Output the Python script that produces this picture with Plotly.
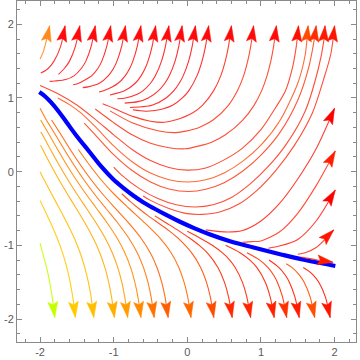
import math
import plotly.graph_objects as go

# ---- streamlines (x, y), tail -> arrow tip ----
top_01 = [(-2.00, 1.53), (-1.96, 1.615), (-1.935, 1.70), (-1.90, 1.84), (-1.87, 1.98)]
top_02 = [(-1.99, 1.34), (-1.93, 1.37), (-1.89, 1.40), (-1.81, 1.50), (-1.72, 1.70), (-1.66, 1.98)]
top_03 = [(-1.75, 1.32), (-1.67, 1.40), (-1.60, 1.50), (-1.52, 1.70), (-1.46, 1.98)]
top_04 = [(-1.87, 1.225), (-1.80, 1.23), (-1.65, 1.25), (-1.54, 1.30), (-1.44, 1.40), (-1.378, 1.50), (-1.306, 1.70), (-1.25, 1.98)]
top_05 = [(-1.55, 1.18), (-1.475, 1.20), (-1.39, 1.245), (-1.30, 1.30), (-1.215, 1.40), (-1.161, 1.50), (-1.094, 1.70), (-1.04, 1.98)]
top_06 = [(-1.42, 1.14), (-1.35, 1.15), (-1.196, 1.20), (-1.074, 1.30), (-1.003, 1.40), (-0.955, 1.50), (-0.892, 1.70), (-0.84, 1.98)]
top_07 = [(-1.20, 1.08), (-1.13, 1.10), (-0.94, 1.20), (-0.844, 1.30), (-0.783, 1.40), (-0.739, 1.50), (-0.68, 1.70), (-0.63, 1.98)]
top_08 = [(-1.05, 1.04), (-0.847, 1.10), (-0.708, 1.20), (-0.628, 1.30), (-0.574, 1.40), (-0.534, 1.50), (-0.478, 1.70), (-0.43, 1.98)]
top_09 = [(-0.95, 0.99), (-0.84, 1.00), (-0.68, 1.05), (-0.60, 1.10), (-0.50, 1.20), (-0.434, 1.30), (-0.35, 1.50), (-0.297, 1.70), (-0.25, 1.98)]
top_10 = [(-0.85, 0.93), (-0.67, 0.95), (-0.53, 1.00), (-0.39, 1.10), (-0.305, 1.20), (-0.245, 1.30), (-0.166, 1.50), (-0.116, 1.70), (-0.07, 1.98)]
top_11 = [(-0.78, 0.87), (-0.62, 0.88), (-0.48, 0.90), (-0.288, 1.00), (-0.182, 1.10), (-0.11, 1.20), (-0.056, 1.30), (0.018, 1.50), (0.066, 1.70), (0.11, 1.98)]
top_12 = [(-0.74, 0.84), (-0.57, 0.82), (-0.44, 0.83), (-0.336, 0.85), (-0.20, 0.90), (-0.067, 1.00), (0.021, 1.10), (0.131, 1.30), (0.20, 1.50), (0.247, 1.70), (0.29, 1.98)]
top_13 = [(-1.15, 0.92), (-1.00, 0.86), (-0.74, 0.75), (-0.50, 0.685), (-0.31, 0.67), (-0.165, 0.70), (0.075, 0.80), (0.205, 0.90), (0.359, 1.10), (0.454, 1.30), (0.516, 1.50), (0.559, 1.70), (0.60, 1.98)]
top_14 = [(-1.05, 0.825), (-0.74, 0.66), (-0.40, 0.555), (-0.15, 0.53), (-0.02, 0.55), (0.16, 0.60), (0.35, 0.70), (0.558, 0.90), (0.682, 1.10), (0.764, 1.30), (0.82, 1.50), (0.861, 1.70), (0.90, 1.98)]
top_15 = [(-1.25, 0.85), (-1.00, 0.665), (-0.75, 0.50), (-0.50, 0.385), (-0.25, 0.325), (-0.03, 0.31), (0.163, 0.35), (0.33, 0.40), (0.518, 0.50), (0.753, 0.70), (0.906, 0.90), (1.01, 1.10), (1.082, 1.30), (1.134, 1.50), (1.172, 1.70), (1.21, 1.98)]
top_16 = [(-2.00, 1.17), (-1.75, 1.055), (-1.50, 0.905), (-1.25, 0.71), (-1.00, 0.50), (-0.75, 0.30), (-0.50, 0.15), (-0.25, 0.055), (0.00, 0.02), (0.25, 0.05), (0.50, 0.16), (0.75, 0.32), (1.00, 0.57), (1.20, 0.87), (1.33, 1.09), (1.43, 1.42), (1.48, 1.70), (1.51, 1.98)]
top_17 = [(-1.76, 1.00), (-1.60, 0.91), (-1.45, 0.80), (-1.25, 0.61), (-1.00, 0.35), (-0.75, 0.135), (-0.50, -0.02), (-0.25, -0.11), (0.00, -0.14), (0.25, -0.11), (0.50, -0.017), (0.75, 0.14), (1.00, 0.36), (1.25, 0.68), (1.50, 1.20), (1.60, 1.58), (1.64, 1.98)]
top_18 = [(-1.40, 0.66), (-1.25, 0.50), (-1.00, 0.23), (-0.75, 0.015), (-0.50, -0.14), (-0.25, -0.235), (0.02, -0.27), (0.25, -0.24), (0.50, -0.15), (0.75, 0.005), (1.00, 0.225), (1.25, 0.52), (1.50, 0.97), (1.65, 1.42), (1.72, 1.77), (1.75, 1.98)]
top_19 = [(-1.00, 0.06), (-0.90, -0.04), (-0.65, -0.23), (-0.40, -0.365), (-0.15, -0.45), (0.11, -0.48), (0.35, -0.45), (0.60, -0.35), (0.85, -0.17), (1.10, 0.07), (1.35, 0.38), (1.60, 0.82), (1.78, 1.40), (1.85, 1.75), (1.87, 1.98)]
top_20 = [(-0.60, -0.33), (-0.50, -0.39), (-0.25, -0.50), (0.00, -0.57), (0.20, -0.58), (0.45, -0.545), (0.70, -0.44), (0.95, -0.25), (1.20, 0.015), (1.45, 0.35), (1.70, 0.80), (1.85, 1.25), (1.95, 1.60), (2.00, 1.98)]

right_a = [(0.25, -0.79), (0.55, -0.82), (0.75, -0.80), (1.00, -0.67), (1.25, -0.435), (1.50, -0.10), (1.75, 0.31), (2.00, 0.86)]
right_b = [(0.75, -0.96), (0.87, -0.95), (1.00, -0.94), (1.25, -0.82), (1.50, -0.565), (1.75, -0.19), (2.01, 0.28)]
right_c = [(1.10, -1.04), (1.25, -1.01), (1.50, -0.92), (1.75, -0.67), (2.01, -0.25)]
right_d = [(1.50, -1.12), (1.60, -1.10), (1.75, -1.03), (1.99, -0.79)]
right_e = [(1.55, -1.16), (1.75, -1.195), (1.98, -1.23)]

bot_01 = [(-2.00, -0.97), (-1.966, -1.10), (-1.912, -1.30), (-1.869, -1.50), (-1.835, -1.70), (-1.80, -1.98)]
bot_02 = [(-2.00, -0.39), (-1.948, -0.50), (-1.854, -0.70), (-1.768, -0.90), (-1.695, -1.10), (-1.637, -1.30), (-1.591, -1.50), (-1.556, -1.70), (-1.52, -1.98)]
bot_03 = [(-2.00, 0.00), (-1.95, -0.10), (-1.845, -0.30), (-1.737, -0.50), (-1.632, -0.70), (-1.536, -0.90), (-1.456, -1.10), (-1.393, -1.30), (-1.344, -1.50), (-1.307, -1.70), (-1.27, -1.98)]
bot_04 = [(-1.994, 0.36), (-1.964, 0.30), (-1.859, 0.10), (-1.749, -0.10), (-1.631, -0.30), (-1.508, -0.50), (-1.388, -0.70), (-1.279, -0.90), (-1.189, -1.10), (-1.12, -1.30), (-1.068, -1.50), (-1.029, -1.70), (-0.99, -1.98)]
bot_05 = [(-1.99, 0.54), (-1.966, 0.50), (-1.858, 0.30), (-1.747, 0.10), (-1.629, -0.10), (-1.502, -0.30), (-1.368, -0.50), (-1.236, -0.70), (-1.116, -0.90), (-1.019, -1.10), (-0.945, -1.30), (-0.89, -1.50), (-0.85, -1.70), (-0.81, -1.98)]
bot_06 = [(-1.992, 0.70), (-1.875, 0.50), (-1.761, 0.30), (-1.643, 0.10), (-1.516, -0.10), (-1.379, -0.30), (-1.232, -0.50), (-1.086, -0.70), (-0.954, -0.90), (-0.849, -1.10), (-0.77, -1.30), (-0.713, -1.50), (-0.671, -1.70), (-0.63, -1.98)]
bot_07 = [(-2.00, 0.86), (-1.914, 0.70), (-1.791, 0.50), (-1.671, 0.30), (-1.546, 0.10), (-1.412, -0.10), (-1.265, -0.30), (-1.105, -0.50), (-0.942, -0.70), (-0.796, -0.90), (-0.68, -1.10), (-0.596, -1.30), (-0.535, -1.50), (-0.492, -1.70), (-0.45, -1.98)]
bot_08 = [(-1.843, 0.70), (-1.715, 0.50), (-1.59, 0.30), (-1.458, 0.10), (-1.314, -0.10), (-1.154, -0.30), (-0.977, -0.50), (-0.795, -0.70), (-0.631, -0.90), (-0.503, -1.10), (-0.412, -1.30), (-0.348, -1.50), (-0.303, -1.70), (-0.26, -1.98)]
bot_09 = [(-1.48, 0.30), (-1.336, 0.10), (-1.18, -0.10), (-1.00, -0.30), (-0.79, -0.50), (-0.574, -0.70), (-0.374, -0.90), (-0.22, -1.10), (-0.115, -1.30), (-0.044, -1.50), (0.005, -1.70), (0.05, -1.98)]
bot_10 = [(-0.89, -0.30), (-0.78, -0.40), (-0.66, -0.50), (-0.53, -0.60), (-0.39, -0.70), (-0.25, -0.80), (-0.13, -0.90), (0.057, -1.10), (0.181, -1.30), (0.26, -1.50), (0.312, -1.70), (0.36, -1.98)]
bot_11 = [(-0.44, -0.60), (-0.28, -0.70), (-0.12, -0.80), (0.03, -0.90), (0.163, -1.00), (0.269, -1.10), (0.416, -1.30), (0.504, -1.50), (0.56, -1.70), (0.61, -1.98)]
bot_12 = [(0.00, -0.81), (0.17, -0.90), (0.339, -1.00), (0.474, -1.10), (0.576, -1.20), (0.65, -1.30), (0.748, -1.50), (0.808, -1.70), (0.86, -1.98)]
bot_13 = [(0.52, -1.00), (0.715, -1.10), (0.85, -1.20), (0.944, -1.30), (1.059, -1.50), (1.125, -1.70), (1.18, -1.98)]
bot_14 = [(0.81, -1.10), (0.984, -1.20), (1.094, -1.30), (1.169, -1.40), (1.223, -1.50), (1.293, -1.70), (1.35, -1.98)]
bot_15 = [(1.11, -1.20), (1.242, -1.30), (1.327, -1.40), (1.386, -1.50), (1.461, -1.70), (1.52, -1.98)]
bot_16 = [(1.343, -1.25), (1.42, -1.30), (1.52, -1.40), (1.587, -1.50), (1.668, -1.70), (1.73, -1.98)]
bot_17 = [(1.574, -1.30), (1.65, -1.35), (1.708, -1.40), (1.786, -1.50), (1.875, -1.70), (1.94, -1.98)]

top_lines = [top_01, top_02, top_03, top_04, top_05, top_06, top_07, top_08, top_09, top_10,
             top_11, top_12, top_13, top_14, top_15, top_16, top_17, top_18, top_19, top_20]
top_line_colors = ["#FF8A1C", "#FF2020", "#FF1A1A", "#FF1A1A", "#FF1A1A", "#FF1A1A", "#FF1A1A", "#FF1A1A", "#FF1A1A", "#FF1A1A",
                   "#FF1A1A", "#FF1A1A", "#FF2A1A", "#FF3A20", "#FF3A20", "#FF3A22", "#FF5A22", "#FF4422", "#FF3A22", "#FF3A22"]
top_head_colors = ["#FF8A1C", "#FF0A0A", "#FF0A0A", "#FF0A0A", "#FF0A0A", "#FF0A0A", "#FF0A0A", "#FF0A0A", "#FF0A0A", "#FF0A0A",
                   "#FF0A0A", "#FF0A0A", "#FF0A0A", "#FF0A0A", "#FF0A0A", "#FF0D00", "#FF4A00", "#FF2C00", "#FF1A00", "#FF1400"]
right_lines = [right_a, right_b, right_c, right_d, right_e]
right_line_colors = ["#FF2A20", "#FF3A20", "#FF2A20", "#FF3020", "#FF3020"]
right_head_colors = ["#FF0000", "#FF1E00", "#FF0000", "#FF1400", "#FF1A00"]
bottom_lines = [bot_01, bot_02, bot_03, bot_04, bot_05, bot_06, bot_07, bot_08, bot_09,
                bot_10, bot_11, bot_12, bot_13, bot_14, bot_15, bot_16, bot_17]
bottom_colors = ["#C4FF00", "#FFCA00", "#FFBE00", "#FFAE00", "#FF9E00", "#FF8A00", "#FF7200", "#FF5E00", "#FF6800",
                 "#FF4A00", "#FF2800", "#FF2400", "#FF2000", "#FF3000", "#FF1A00", "#FF4E00", "#FF1400"]

# highlighted solution curve
blue_curve = [(-2.01, 1.08), (-1.93, 1.02), (-1.85, 0.94), (-1.75, 0.82), (-1.64, 0.67), (-1.50, 0.48),
              (-1.33, 0.27), (-1.17, 0.07), (-1.01, -0.10), (-0.87, -0.22), (-0.74, -0.32), (-0.60, -0.415),
              (-0.45, -0.50), (-0.30, -0.58), (-0.10, -0.68), (0.10, -0.77), (0.30, -0.85), (0.58, -0.945),
              (0.90, -1.03), (1.26, -1.12), (1.60, -1.20), (2.01, -1.28)]

tick_values = [-2, -1, 0, 1, 2]
tick_labels = ["-2", "-1", "0", "1", "2"]

x_range = [-2.313, 2.291]
y_range = [-2.312, 2.316]

HEAD_LEN = 0.215
HEAD_HALF = 0.068

fig = go.Figure()

fig.add_trace(go.Scatter(
    x=[p[0] for p in blue_curve], y=[p[1] for p in blue_curve], mode="lines",
    line=dict(color="#0000FF", width=4.2, shape="spline", smoothing=1.0), hoverinfo="skip"))


def add_stream(points, line_color, head_color):
    xs = [p[0] for p in points]
    ys = [p[1] for p in points]
    fig.add_trace(go.Scatter(x=xs, y=ys, mode="lines",
                             line=dict(color=line_color, width=1.1, shape="spline", smoothing=0.8),
                             opacity=0.9, hoverinfo="skip"))
    x1, y1 = xs[-1], ys[-1]
    x0, y0 = xs[-2], ys[-2]
    d = math.hypot(x1 - x0, y1 - y0)
    ux, uy = (x1 - x0) / d, (y1 - y0) / d
    bx, by = x1 - HEAD_LEN * ux, y1 - HEAD_LEN * uy
    nx, ny = -uy, ux
    hx = [x1, bx + HEAD_HALF * nx, bx + 0.18 * HEAD_LEN * ux, bx - HEAD_HALF * nx, x1]
    hy = [y1, by + HEAD_HALF * ny, by + 0.18 * HEAD_LEN * uy, by - HEAD_HALF * ny, y1]
    fig.add_trace(go.Scatter(x=hx, y=hy, mode="lines", fill="toself", fillcolor=head_color,
                             line=dict(color=head_color, width=0.5), hoverinfo="skip"))


for pts, lc, hc in zip(top_lines, top_line_colors, top_head_colors):
    add_stream(pts, lc, hc)
for pts, lc, hc in zip(right_lines, right_line_colors, right_head_colors):
    add_stream(pts, lc, hc)
for pts, col in zip(bottom_lines, bottom_colors):
    add_stream(pts, col, col)

axis_common = dict(
    tickmode="array", tickvals=tick_values, ticktext=tick_labels,
    ticks="inside", ticklen=5, tickwidth=1, tickcolor="#8a8a8a",
    showline=True, linecolor="#8a8a8a", linewidth=1, mirror="allticks",
    showgrid=False, zeroline=False, automargin=False,
    tickfont=dict(family="Liberation Sans, Arial, sans-serif", size=11, color="#5a5a5a"),
    minor=dict(tickmode="linear", tick0=0, dtick=0.2, ticks="inside", ticklen=3,
               tickcolor="#8a8a8a", showgrid=False),
)

fig.update_xaxes(range=x_range, **axis_common)
fig.update_yaxes(range=y_range, **axis_common)

fig.update_layout(
    width=360, height=360,
    margin=dict(l=17, r=4, t=1, b=18),
    plot_bgcolor="white", paper_bgcolor="white",
    showlegend=False,
    hovermode=False,
)

fig.write_html("out.html",
               config={"displayModeBar": False, "staticPlot": True},
               post_script="document.body.style.margin='0px';document.body.style.padding='0px';")
